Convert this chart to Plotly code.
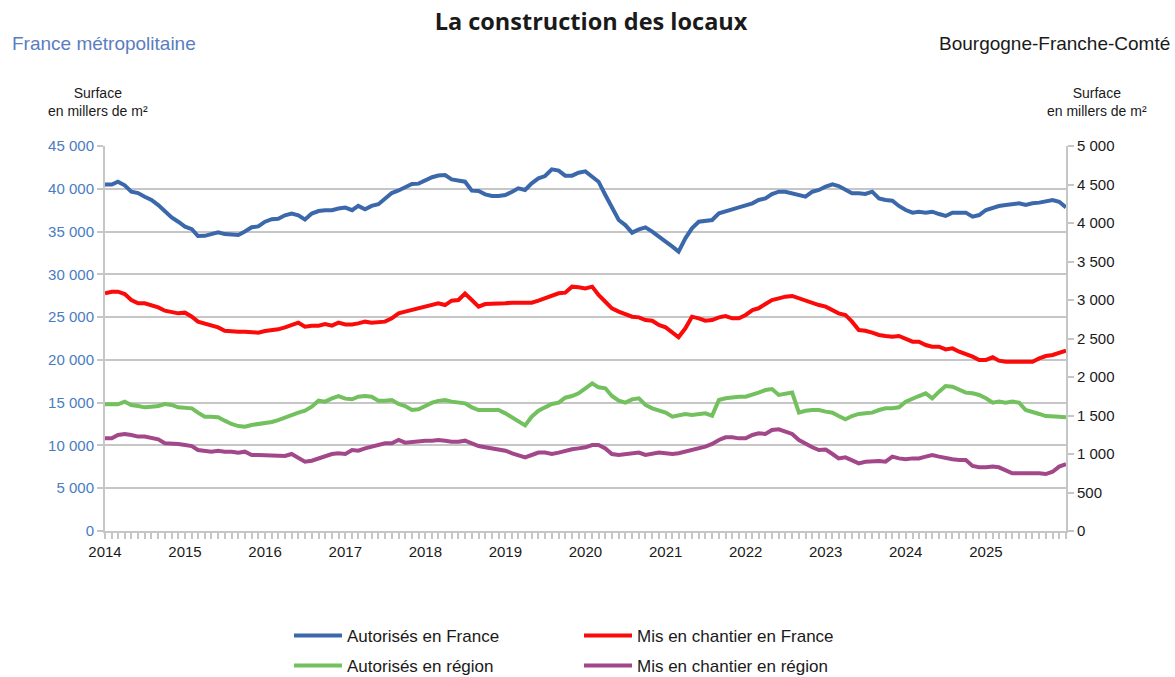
import pandas as pd
import plotly.graph_objects as go

months = pd.date_range("2014-01-01", periods=145, freq="MS")

# Surface in thousands of m² - France (left axis)
autorises_france = [
    40500, 40500, 40830, 40400, 39660, 39500, 39075, 38700, 38100, 37320, 36660, 36150,
    35570, 35270, 34480, 34500, 34700, 34900, 34700, 34600, 34600, 35000, 35500, 35600,
    36150, 36450, 36500, 36900, 37100, 36900, 36400, 37100, 37400, 37500, 37500, 37700,
    37800, 37500, 38000, 37600, 38000, 38200, 38800, 39500, 39800, 40170, 40550, 40600,
    41000, 41350, 41550, 41600, 41100, 40950, 40830, 39780, 39740, 39350, 39150, 39150,
    39270, 39660, 40050, 39860, 40640, 41220, 41490, 42270, 42120, 41530, 41530, 41880,
    42040, 41410, 40830, 39270, 37710, 36350, 35760, 34870, 35260, 35490, 34990, 34480,
    33820, 33230, 32650, 34210, 35380, 36150, 36270, 36350, 37130, 37320, 37600, 37830,
    38100, 38300, 38690, 38880, 39390, 39660, 39660, 39470, 39270, 39080, 39660, 39860,
    40240, 40520, 40320, 39860, 39470, 39470, 39390, 39660, 38880, 38690, 38610, 37990,
    37520, 37210, 37320, 37210, 37320, 37050, 36820, 37210, 37210, 37210, 36740, 36930,
    37520, 37830, 37990, 38100, 38220, 38300, 38100, 38300, 38380, 38490, 38690, 38490,
    37830,
]
chantier_france = [
    27780, 27970, 27970, 27700, 27000, 26610, 26610, 26410, 26140, 25750, 25640, 25440,
    25520, 25050, 24470, 24270, 24080, 23800, 23410, 23300, 23300, 23300, 23220, 23180,
    23380, 23490, 23570, 23800, 24080, 24350, 23880, 24000, 24000, 24190, 24000, 24350,
    24150, 24150, 24270, 24470, 24350, 24390, 24470, 24860, 25440, 25640, 25830, 26030,
    26300, 26450, 26610, 26410, 26920, 27000, 27750, 27000, 26220, 26530, 26530, 26530,
    26610, 26690, 26690, 26800, 26690, 26920, 27190, 27390, 27780, 27860, 28560, 28480,
    28360, 28560, 27580, 26800, 26030, 25640, 25360, 25050, 24970, 24660, 24580, 24080,
    23800, 23180, 22640, 23690, 25050, 24860, 24580, 24660, 24970, 25130, 24860, 24860,
    25250, 25830, 26030, 26530, 27000, 27190, 27390, 27470, 27190, 26920, 26690, 26410,
    26220, 25830, 25440, 25250, 24470, 23490, 23410, 23180, 22910, 22790, 22710, 22790,
    22400, 22130, 22130, 21740, 21540, 21540, 21230, 21350, 20960, 20690, 20380, 19990,
    19990, 20300, 19910, 19790, 19790, 19790, 19790, 19790, 20180, 20450, 20570, 20840,
    21080,
]

# Surface in thousands of m² - region (right axis)
autorises_region = [
    1645, 1645, 1645, 1680, 1637, 1623, 1606, 1614, 1623, 1649, 1637, 1606,
    1593, 1593, 1537, 1484, 1484, 1477, 1433, 1390, 1363, 1354, 1377, 1390,
    1398, 1416, 1441, 1477, 1507, 1537, 1562, 1614, 1692, 1680, 1723, 1753,
    1719, 1710, 1744, 1753, 1744, 1692, 1692, 1701, 1649, 1623, 1571, 1580,
    1623, 1667, 1690, 1701, 1680, 1667, 1658, 1606, 1571, 1571, 1571, 1571,
    1528, 1477, 1433, 1372, 1484, 1562, 1606, 1649, 1667, 1731, 1753, 1788,
    1853, 1918, 1866, 1853, 1753, 1692, 1667, 1710, 1723, 1637, 1593, 1571,
    1537, 1484, 1507, 1520, 1507, 1516, 1528, 1498, 1701, 1723, 1736, 1744,
    1744, 1767, 1797, 1831, 1844, 1767, 1788, 1797, 1537, 1562, 1571, 1571,
    1550, 1537, 1493, 1450, 1493, 1520, 1528, 1537, 1571, 1593, 1593, 1606,
    1680, 1723, 1753, 1788, 1723, 1810, 1883, 1874, 1840, 1797, 1788, 1767,
    1723, 1667, 1680, 1667, 1680, 1667, 1571, 1550, 1520, 1493, 1493, 1484,
    1477,
]
chantier_region = [
    1203, 1203, 1247, 1260, 1247, 1226, 1226, 1203, 1190, 1139, 1139, 1130,
    1117, 1103, 1052, 1043, 1030, 1043, 1030, 1030, 1018, 1030, 987, 987,
    982, 974, 974, 974, 1000, 943, 900, 913, 943, 974, 1000, 1009,
    1000, 1052, 1043, 1073, 1096, 1117, 1139, 1139, 1182, 1147, 1160, 1173,
    1173, 1173, 1182, 1173, 1160, 1160, 1173, 1139, 1103, 1087, 1073, 1061,
    1043, 1009, 987, 957, 987, 1018, 1018, 1000, 1018, 1043, 1061, 1073,
    1087, 1117, 1117, 1073, 1000, 987, 1000, 1009, 1018, 987, 1000, 1018,
    1009, 1000, 1009, 1030, 1061, 1073, 1096, 1130, 1182, 1217, 1217, 1203,
    1203, 1247, 1269, 1260, 1312, 1320, 1290, 1260, 1182, 1130, 1087, 1052,
    1057, 1000, 943, 957, 922, 879, 900, 909, 909, 900, 966, 943,
    931, 943, 943, 966, 987, 966, 943, 931, 922, 922, 844, 827,
    827, 836, 827, 792, 749, 749, 749, 758, 749, 740, 770, 836,
    870,
]

year_ticks = [str(y) for y in range(2014, 2026)]

BLUE = "#3b68aa"
RED = "#fb0a0a"
GREEN = "#72c05e"
PURPLE = "#a2478a"
GRID = "#c6c6c6"
FONT = "Liberation Sans, Arial, sans-serif"
W, H = 1175, 677

fig = go.Figure()
fig.add_trace(go.Scatter(x=months, y=autorises_france, name="Autorisés en France",
                         mode="lines", line=dict(color=BLUE, width=4), legend="legend"))
fig.add_trace(go.Scatter(x=months, y=chantier_france, name="Mis en chantier en France",
                         mode="lines", line=dict(color=RED, width=4), legend="legend"))
fig.add_trace(go.Scatter(x=months, y=autorises_region, name="Autorisés en région",
                         mode="lines", line=dict(color=GREEN, width=4), yaxis="y2", legend="legend2"))
fig.add_trace(go.Scatter(x=months, y=chantier_region, name="Mis en chantier en région",
                         mode="lines", line=dict(color=PURPLE, width=4), yaxis="y2", legend="legend2"))

legend_common = dict(orientation="h", xanchor="left", yanchor="middle",
                     xref="container", yref="container",
                     font=dict(family=FONT, size=17, color="#1a1a1a"),
                     itemwidth=48, entrywidth=227, bgcolor="rgba(0,0,0,0)")

fig.update_layout(
    width=W, height=H,
    paper_bgcolor="white", plot_bgcolor="white",
    margin=dict(l=105, r=109, t=146, b=146, autoexpand=False),
    separators=", ",
    font=dict(family=FONT, size=15, color="#1a1a1a"),
    title=dict(text="<b>La construction des locaux</b>", x=0.503, xanchor="center",
               y=1 - 22 / H, yanchor="middle",
               font=dict(family="Open Sans, Lato, sans-serif", size=23.5, color="#1a1a1a")),
    showlegend=True,
    legend=dict(x=289 / W, y=1 - 636 / H, **legend_common),
    legend2=dict(x=289 / W, y=1 - 666 / H, **legend_common),
    xaxis=dict(
        type="date",
        range=[months[0], months[-1]],
        tickvals=[f"{y}-01-01" for y in range(2014, 2026)],
        ticktext=year_ticks,
        ticks="outside", ticklen=6, tickcolor=GRID, tickwidth=1.5,
        minor=dict(dtick="M1", ticks="outside", ticklen=6, tickcolor=GRID, tickwidth=1.5, showgrid=False),
        showline=True, linecolor=GRID, linewidth=2,
        showgrid=False, zeroline=False,
        tickfont=dict(family=FONT, size=15, color="#1a1a1a"),
    ),
    yaxis=dict(
        range=[0, 45000], dtick=5000, tickformat=",d",
        showgrid=True, gridcolor=GRID, gridwidth=2,
        showline=True, linecolor=GRID, linewidth=2,
        ticks="outside", ticklen=6, tickcolor=GRID, tickwidth=2,
        zeroline=False,
        tickfont=dict(family=FONT, size=15, color="#4a7cc0"),
    ),
    yaxis2=dict(
        range=[0, 5000], dtick=500, tickformat=",d",
        overlaying="y", side="right", anchor="x",
        showgrid=False, showline=True, linecolor=GRID, linewidth=2,
        ticks="outside", ticklen=6, tickcolor=GRID, tickwidth=2,
        zeroline=False,
        tickfont=dict(family=FONT, size=15, color="#1a1a1a"),
    ),
)

annos = [
    dict(text="France métropolitaine", x=(10 - 105) / 961, y=(531 - 44) / 385,
         xanchor="left", yanchor="middle", font=dict(family=FONT, size=19, color="#5a7dc2")),
    dict(text="Bourgogne-Franche-Comté", x=(1172 - 105) / 961, y=(531 - 44) / 385,
         xanchor="right", yanchor="middle", font=dict(family=FONT, size=19, color="#1a1a1a")),
    dict(text="Surface<br>en millers de m²", x=(98 - 105) / 961, y=(531 - 102) / 385,
         xanchor="center", yanchor="middle", align="center",
         font=dict(family=FONT, size=14, color="#1a1a1a")),
    dict(text="Surface<br>en millers de m²", x=(1097 - 105) / 961, y=(531 - 102) / 385,
         xanchor="center", yanchor="middle", align="center",
         font=dict(family=FONT, size=14, color="#1a1a1a")),
]
for a in annos:
    fig.add_annotation(xref="paper", yref="paper", showarrow=False, **a)

fig.write_html("out.html", config={"displayModeBar": False},
               post_script="document.body.style.margin='0';")
